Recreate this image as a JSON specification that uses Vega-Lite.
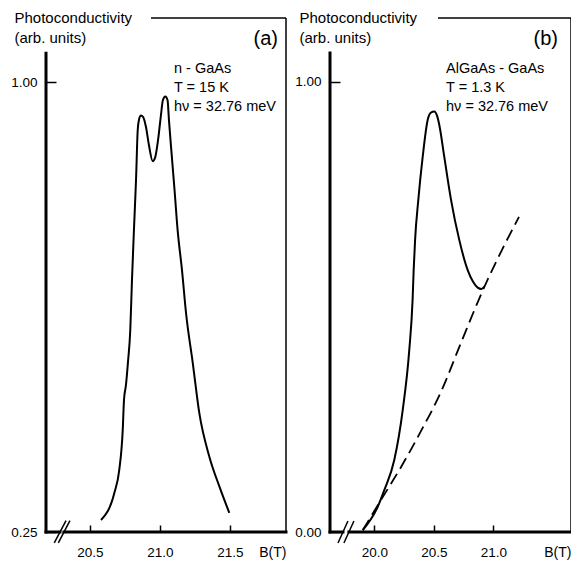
{
  "$schema": "https://vega.github.io/schema/vega-lite/v6.json",
  "background": "white",
  "padding": {"left": 10, "top": 10, "right": 0, "bottom": 0},
  "bounds": "flush",
  "spacing": 44,
  "config": {
    "view": {"stroke": null},
    "font": "Liberation Sans, Arial, sans-serif",
    "axis": {
      "grid": false,
      "domain": false,
      "ticks": true,
      "tickColor": "black",
      "tickWidth": 1.5,
      "labelColor": "black",
      "labelFontSize": 13.5,
      "titleColor": "black",
      "titleFontSize": 15,
      "titleFontWeight": "normal"
    },
    "axisX": {
      "tickSize": -7,
      "labelPadding": 31.7,
      "labelBaseline": "alphabetic",
      "titleAlign": "right",
      "titleBaseline": "alphabetic",
      "titleFontSize": 14,
      "titleY": 24.7
    },
    "axisY": {
      "tickSize": -10,
      "labelPadding": 19,
      "titleAngle": 0,
      "titleAlign": "left",
      "titleBaseline": "alphabetic",
      "titleY": 4,
      "titleLineHeight": 20
    }
  },
  "datasets": {
    "curveA": [
      {"x": 20.579, "y": 0.270}, {"x": 20.674, "y": 0.315}, {"x": 20.709, "y": 0.353},
      {"x": 20.734, "y": 0.420}, {"x": 20.743, "y": 0.470}, {"x": 20.757, "y": 0.495},
      {"x": 20.771, "y": 0.532}, {"x": 20.788, "y": 0.587}, {"x": 20.800, "y": 0.670},
      {"x": 20.814, "y": 0.753}, {"x": 20.829, "y": 0.837}, {"x": 20.841, "y": 0.920},
      {"x": 20.850, "y": 0.937}, {"x": 20.864, "y": 0.944}, {"x": 20.879, "y": 0.942},
      {"x": 20.900, "y": 0.925}, {"x": 20.921, "y": 0.895}, {"x": 20.948, "y": 0.868},
      {"x": 20.964, "y": 0.873}, {"x": 20.986, "y": 0.903}, {"x": 21.007, "y": 0.945},
      {"x": 21.021, "y": 0.970}, {"x": 21.038, "y": 0.976}, {"x": 21.054, "y": 0.970},
      {"x": 21.064, "y": 0.937}, {"x": 21.079, "y": 0.892}, {"x": 21.104, "y": 0.820},
      {"x": 21.126, "y": 0.753}, {"x": 21.157, "y": 0.687}, {"x": 21.186, "y": 0.615},
      {"x": 21.234, "y": 0.532}, {"x": 21.281, "y": 0.448}, {"x": 21.352, "y": 0.376},
      {"x": 21.424, "y": 0.326}, {"x": 21.495, "y": 0.282}
    ],
    "thickA": [
      {"x": 20.186, "y": 0.25, "x2": 20.186, "y2": 1.048},
      {"x": 20.186, "y": 0.25, "x2": 20.286, "y2": 0.25},
      {"x": 20.314, "y": 0.25, "x2": 21.9, "y2": 0.25}
    ],
    "thinA": [
      {"x": 20.936, "y": 1.1067, "x2": 21.9, "y2": 1.1067},
      {"x": 21.9, "y": 0.25, "x2": 21.9, "y2": 1.1067},
      {"x": 20.245, "y": 0.232, "x2": 20.329, "y2": 0.269},
      {"x": 20.274, "y": 0.232, "x2": 20.357, "y2": 0.269}
    ],
    "annA": [
      {"x": 21.1, "y": 1.015, "t": "n - GaAs"},
      {"x": 21.1, "y": 0.9833, "t": "T = 15 K"},
      {"x": 21.1, "y": 0.9517, "t": "hν = 32.76 meV"}
    ],
    "tagA": [{"x": 21.843, "y": 1.0617, "t": "(a)"}],
    "solidB": [
      {"x": 19.903, "y": 0.004}, {"x": 20.029, "y": 0.056}, {"x": 20.084, "y": 0.093},
      {"x": 20.168, "y": 0.160}, {"x": 20.239, "y": 0.271}, {"x": 20.294, "y": 0.404},
      {"x": 20.322, "y": 0.516}, {"x": 20.331, "y": 0.582}, {"x": 20.343, "y": 0.649},
      {"x": 20.370, "y": 0.738}, {"x": 20.407, "y": 0.834}, {"x": 20.449, "y": 0.916},
      {"x": 20.476, "y": 0.932}, {"x": 20.504, "y": 0.934}, {"x": 20.527, "y": 0.925},
      {"x": 20.546, "y": 0.905}, {"x": 20.588, "y": 0.834}, {"x": 20.645, "y": 0.738},
      {"x": 20.714, "y": 0.649}, {"x": 20.785, "y": 0.582}, {"x": 20.830, "y": 0.556},
      {"x": 20.869, "y": 0.543}, {"x": 20.900, "y": 0.540}, {"x": 20.924, "y": 0.545}
    ],
    "dashB": [
      {"x": 19.903, "y": 0.004}, {"x": 20.056, "y": 0.071}, {"x": 20.224, "y": 0.144},
      {"x": 20.392, "y": 0.224}, {"x": 20.560, "y": 0.311}, {"x": 20.728, "y": 0.420},
      {"x": 20.924, "y": 0.544}, {"x": 21.064, "y": 0.622}, {"x": 21.216, "y": 0.700}
    ],
    "thickB": [
      {"x": 19.628, "y": 0, "x2": 19.628, "y2": 1.064},
      {"x": 19.628, "y": 0, "x2": 19.737, "y2": 0},
      {"x": 19.787, "y": 0, "x2": 21.653, "y2": 0}
    ],
    "thinB": [
      {"x": 20.535, "y": 1.142, "x2": 21.653, "y2": 1.142},
      {"x": 21.653, "y": 0, "x2": 21.653, "y2": 1.142},
      {"x": 19.695, "y": -0.0244, "x2": 19.779, "y2": 0.0244},
      {"x": 19.745, "y": -0.0244, "x2": 19.829, "y2": 0.0244}
    ],
    "annB": [
      {"x": 20.603, "y": 1.02, "t": "AlGaAs - GaAs"},
      {"x": 20.603, "y": 0.978, "t": "T = 1.3 K"},
      {"x": 20.603, "y": 0.9356, "t": "hν = 32.76 meV"}
    ],
    "tagB": [{"x": 21.544, "y": 1.082, "t": "(b)"}]
  },
  "hconcat": [
    {
      "width": 240,
      "height": 514,
      "encoding": {
        "x": {
          "field": "x", "type": "quantitative",
          "scale": {"domain": [20.186, 21.9], "nice": false, "zero": false},
          "axis": {"values": [20.5, 21.0, 21.5], "format": ".1f", "title": "B(T)", "titleX": 240}
        },
        "y": {
          "field": "y", "type": "quantitative",
          "scale": {"domain": [0.25, 1.1067], "nice": false, "zero": false},
          "axis": {"values": [0.25, 1.0], "format": ".2f", "title": ["Photoconductivity", "(arb. units)"], "titleX": -32}
        }
      },
      "layer": [
        {"data": {"name": "thickA"}, "mark": {"type": "rule", "color": "black", "strokeWidth": 3, "strokeCap": "square"}, "encoding": {"x2": {"field": "x2"}, "y2": {"field": "y2"}}},
        {"data": {"name": "thinA"}, "mark": {"type": "rule", "color": "black", "strokeWidth": 1.5}, "encoding": {"x2": {"field": "x2"}, "y2": {"field": "y2"}}},
        {"data": {"name": "curveA"}, "mark": {"type": "line", "color": "black", "strokeWidth": 2, "interpolate": "monotone"}},
        {"data": {"name": "annA"}, "mark": {"type": "text", "align": "left", "baseline": "alphabetic", "fontSize": 14.5, "color": "black"}, "encoding": {"text": {"field": "t"}}},
        {"data": {"name": "tagA"}, "mark": {"type": "text", "align": "right", "baseline": "alphabetic", "fontSize": 20, "color": "black"}, "encoding": {"text": {"field": "t"}}}
      ]
    },
    {
      "width": 241,
      "height": 514,
      "encoding": {
        "x": {
          "field": "x", "type": "quantitative",
          "scale": {"domain": [19.628, 21.653], "nice": false, "zero": false},
          "axis": {"values": [20.0, 20.5, 21.0], "format": ".1f", "title": "B(T)", "titleX": 241}
        },
        "y": {
          "field": "y", "type": "quantitative",
          "scale": {"domain": [0, 1.142], "nice": false, "zero": false},
          "axis": {"values": [0, 1.0], "format": ".2f", "title": ["Photoconductivity", "(arb. units)"], "titleX": -31}
        }
      },
      "layer": [
        {"data": {"name": "thickB"}, "mark": {"type": "rule", "color": "black", "strokeWidth": 3, "strokeCap": "square"}, "encoding": {"x2": {"field": "x2"}, "y2": {"field": "y2"}}},
        {"data": {"name": "thinB"}, "mark": {"type": "rule", "color": "black", "strokeWidth": 1.5}, "encoding": {"x2": {"field": "x2"}, "y2": {"field": "y2"}}},
        {"data": {"name": "dashB"}, "mark": {"type": "line", "color": "black", "strokeWidth": 1.8, "strokeDash": [12, 6], "interpolate": "monotone"}},
        {"data": {"name": "solidB"}, "mark": {"type": "line", "color": "black", "strokeWidth": 2, "interpolate": "monotone"}},
        {"data": {"name": "annB"}, "mark": {"type": "text", "align": "left", "baseline": "alphabetic", "fontSize": 14.5, "color": "black"}, "encoding": {"text": {"field": "t"}}},
        {"data": {"name": "tagB"}, "mark": {"type": "text", "align": "right", "baseline": "alphabetic", "fontSize": 20, "color": "black"}, "encoding": {"text": {"field": "t"}}}
      ]
    }
  ]
}
